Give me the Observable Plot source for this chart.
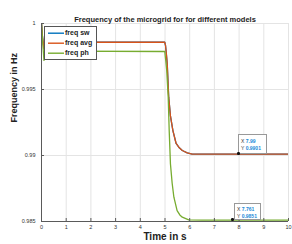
<!DOCTYPE html>
<html><head><meta charset="utf-8">
<script src="https://cdn.jsdelivr.net/npm/d3@7"></script>
<script src="https://cdn.jsdelivr.net/npm/@observablehq/plot@0.6"></script>
<style>
html,body{margin:0;padding:0;background:#fff}
#wrap{position:relative;width:292px;height:244px;font-family:'Liberation Sans',Arial,Helvetica,sans-serif}
#wrap > svg{display:block}
.legend{position:absolute;left:44px;top:26px;width:51px;height:32px;background:#fff;border:1px solid #555;box-sizing:content-box}
.legend .lab{position:absolute;left:20px;font-size:7px;font-weight:bold;color:#222;line-height:10px;white-space:nowrap}
.legend svg{position:absolute;left:0;top:0}
.tip{position:absolute;background:#fff;border:1px solid #999;font-size:5px;line-height:6.5px;padding:2px 0 0 2px;box-sizing:border-box;white-space:nowrap;color:#333}
.tip b{color:#1b8ad8}
</style>
</head><body><div id="wrap"></div>
<script>
const titleText = "Frequency of the microgrid for for different models";
const xLabel = "Time in s";
const yLabel = "Frequency in Hz";
const seriesNames = ["freq sw", "freq avg", "freq ph"];
const seriesColors = ["#0072BD", "#D95319", "#77AC30"];
const xTicks = [0,1,2,3,4,5,6,7,8,9,10];
const yTicks = [0.985, 0.99, 0.995, 1];
const yTickLabels = ["0.985", "0.99", "0.995", "1"];

const timeSw = [0, 0.04, 0.1, 0.18, 0.3, 0.5, 4.99, 5.02, 5.05, 5.09, 5.15, 5.22, 5.32, 5.45, 5.58, 5.7, 5.9, 6.1, 7, 10];
const freqSw = [1.0, 0.9990, 0.9981, 0.99868, 0.99852, 0.99858, 0.99858, 0.99835, 0.9978, 0.99695, 0.99442, 0.9930, 0.99189, 0.99091, 0.99058, 0.99038, 0.99020, 0.99010, 0.99010, 0.99010];
const timeAvg = [0, 0.04, 0.1, 0.18, 0.3, 0.5, 4.99, 5.02, 5.05, 5.09, 5.15, 5.22, 5.32, 5.45, 5.58, 5.7, 5.9, 6.1, 7, 10];
const freqAvg = [1.0, 0.9990, 0.9981, 0.99868, 0.99852, 0.99858, 0.99858, 0.99835, 0.9978, 0.99695, 0.99442, 0.9930, 0.99189, 0.99091, 0.99058, 0.99038, 0.99020, 0.99010, 0.99010, 0.99010];
const timePh = [0, 0.05, 0.1, 0.16, 0.22, 0.3, 0.45, 4.99, 5.03, 5.07, 5.13, 5.17, 5.22, 5.29, 5.36, 5.49, 5.6, 5.7, 5.96, 6.5, 10];
const freqPh = [1.0, 0.9985, 0.9972, 0.9978, 0.9981, 0.99775, 0.99790, 0.99788, 0.9972, 0.99644, 0.99442, 0.99189, 0.98937, 0.98790, 0.98684, 0.98583, 0.98550, 0.98533, 0.98512, 0.98510, 0.98510];

const tipX = [7.99, 7.761];
const tipY = [0.9901, 0.9851];
const tipXText = ["7.99", "7.761"];
const tipYText = ["0.9901", "0.9851"];

const toRows = (ts, vs) => ts.map((t, i) => ({t, v: vs[i]}));
const seriesRows = [toRows(timeSw, freqSw), toRows(timeAvg, freqAvg), toRows(timePh, freqPh)];
const font = "'Liberation Sans', Arial, Helvetica, sans-serif";

const chart = Plot.plot({
  width: 292, height: 244,
  marginLeft: 41, marginRight: 4, marginTop: 23, marginBottom: 23,
  style: {fontFamily: font, background: "#fff", overflow: "visible"},
  x: {domain: [0, 10]},
  y: {domain: [0.985, 1]},
  marks: [
    Plot.gridX(xTicks, {stroke: "#e4e4e4", strokeOpacity: 1}),
    Plot.gridY(yTicks, {stroke: "#e4e4e4", strokeOpacity: 1}),
    ...seriesRows.map((rows, i) => Plot.line(rows, {x: "t", y: "v", stroke: seriesColors[i], strokeWidth: 1.3, clip: true})),
    Plot.ruleX([0], {stroke: "#5a5a5a", strokeWidth: 1}),
    Plot.ruleY([0.985], {stroke: "#5a5a5a", strokeWidth: 1}),
    Plot.ruleX(xTicks, {stroke: "#5a5a5a", insetTop: 195}),
    Plot.ruleY(yTicks, {stroke: "#5a5a5a", insetRight: 244}),
    Plot.axisX(xTicks, {tickSize: 0, tickPadding: 3.5, fontSize: 5.5, fill: "#333", label: null}),
    Plot.axisY(yTicks, {tickSize: 0, tickPadding: 6, fontSize: 5.5, fill: "#333", label: null,
      tickFormat: d => yTickLabels[yTicks.indexOf(d)]}),
    Plot.text([titleText], {frameAnchor: "top", dy: -7, fontSize: 7.5, fontWeight: "bold", fill: "#222"}),
    Plot.text([xLabel], {frameAnchor: "bottom", dy: 18, fontSize: 10, fontWeight: "bold", fill: "#222"}),
    Plot.text([yLabel], {frameAnchor: "left", dx: -27, rotate: -90, fontSize: 9, fontWeight: "bold", fill: "#222"})
  ]
});

const wrap = document.getElementById("wrap");
wrap.appendChild(chart);
const sx = chart.scale("x"), sy = chart.scale("y");

// data tips (HTML overlay placed with the plot's scales)
tipX.forEach((x, i) => {
  const px = sx.apply(x), py = sy.apply(tipY[i]);
  const d = document.createElement("div");
  d.className = "tip";
  const w = i === 0 ? 29 : 27, h = i === 0 ? 20 : 17;
  d.style.left = Math.round(px) + (i === 0 ? 0 : 1) + "px";
  d.style.top = Math.round(py) - h + "px";
  d.style.width = w + "px"; d.style.height = h + "px";
  if (i === 0) d.style.paddingTop = "3px";
  d.innerHTML = `X <b>${tipXText[i]}</b><br>Y <b>${tipYText[i]}</b>`;
  wrap.appendChild(d);
  const dot = document.createElement("div");
  dot.style.cssText = `position:absolute;left:${px - 1.2}px;top:${py - 1.2}px;width:2.4px;height:2.4px;border-radius:50%;background:#111`;
  wrap.appendChild(dot);
});

// legend overlay
const lg = document.createElement("div");
lg.className = "legend";
const NS = "http://www.w3.org/2000/svg";
const ls = document.createElementNS(NS, "svg");
ls.setAttribute("width", "51"); ls.setAttribute("height", "32");
seriesNames.forEach((name, i) => {
  const y = 6.2 + i * 10;
  const ln = document.createElementNS(NS, "line");
  ln.setAttribute("x1", "3"); ln.setAttribute("x2", "19");
  ln.setAttribute("y1", y); ln.setAttribute("y2", y);
  ln.setAttribute("stroke", seriesColors[i]); ln.setAttribute("stroke-width", "1.4");
  ls.appendChild(ln);
  const lab = document.createElement("div");
  lab.className = "lab";
  lab.style.top = (1.2 + i * 10) + "px";
  lab.textContent = name;
  lg.appendChild(lab);
});
lg.insertBefore(ls, lg.firstChild);
wrap.appendChild(lg);
</script>
</body></html>
